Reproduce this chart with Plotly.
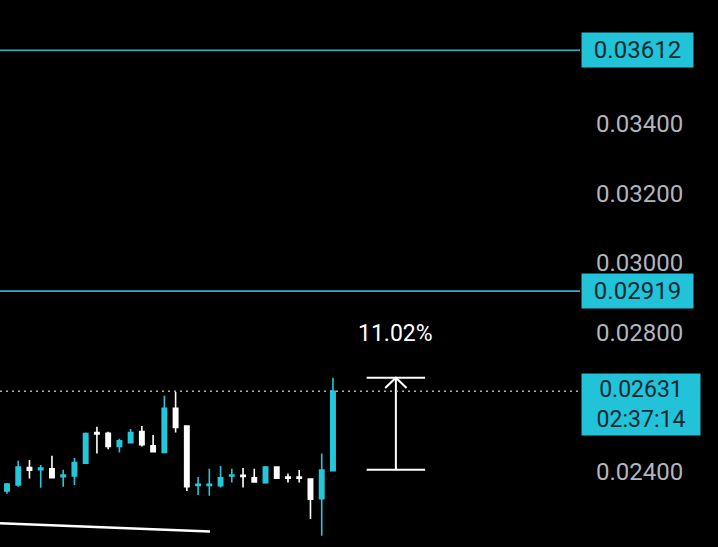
import plotly.graph_objects as go

# ---------------- data ----------------
idx = list(range(30))
opens = [0.02344, 0.02361, 0.02411, 0.02405, 0.02408, 0.02385, 0.02387, 0.02424, 0.02512, 0.02510,
         0.02472, 0.02483, 0.02515, 0.02474, 0.02455, 0.02582, 0.02531, 0.02360, 0.02360, 0.02359,
         0.02387, 0.02389, 0.02382, 0.02368, 0.02413, 0.02384, 0.02384, 0.02378, 0.02322, 0.02402]
highs = [0.02367, 0.02431, 0.02433, 0.02419, 0.02445, 0.02405, 0.02439, 0.02512, 0.02529, 0.02514,
         0.02494, 0.02522, 0.02531, 0.02505, 0.02618, 0.02629, 0.02531, 0.02384, 0.02408, 0.02416,
         0.02408, 0.02410, 0.02408, 0.02416, 0.02413, 0.02394, 0.02404, 0.02378, 0.02452, 0.02670]
lows = [0.02336, 0.02356, 0.02380, 0.02353, 0.02382, 0.02356, 0.02361, 0.02424, 0.02452, 0.02464,
        0.02455, 0.02483, 0.02472, 0.02457, 0.02455, 0.02512, 0.02344, 0.02332, 0.02330, 0.02354,
        0.02368, 0.02354, 0.02370, 0.02365, 0.02381, 0.02368, 0.02368, 0.02263, 0.02215, 0.02402]
closes = [0.02364, 0.02413, 0.02404, 0.02410, 0.02382, 0.02390, 0.02426, 0.02509, 0.02508, 0.02472,
          0.02488, 0.02512, 0.02477, 0.02457, 0.02582, 0.02527, 0.02356, 0.02363, 0.02363, 0.02382,
          0.02390, 0.02386, 0.02370, 0.02413, 0.02381, 0.02381, 0.02381, 0.02320, 0.02404, 0.02631]

level_lines = [0.03612, 0.02919]
last_price = 0.02631
countdown = "02:37:14"

trend_x = [-0.62, 18.06]
trend_y = [0.02251, 0.02227]

measure_x = [32.0, 37.2]
measure_mid = 34.6
measure_lo = 0.02405
measure_hi = 0.02670
measure_text = "11.02%"

# tick labels visible in the reference (0.02600 and 0.03600 sit under price boxes)
y_ticks = [0.022, 0.024, 0.028, 0.030, 0.032, 0.034]

CYAN = "#26C6DA"
WHITE = "#FFFFFF"
LABEL_BG = "#22C2D8"
LABEL_FG = "#0B2B33"
TICK_COLOR = "#B2B5BE"

# arrow head size (style)
AH_DX = 0.95
AH_DY = 0.00030

fig = go.Figure()

fig.add_trace(go.Candlestick(
    x=idx, open=opens, high=highs, low=lows, close=closes,
    increasing=dict(line=dict(color=CYAN, width=1.6), fillcolor=CYAN),
    decreasing=dict(line=dict(color=WHITE, width=1.6), fillcolor=WHITE),
    whiskerwidth=0, showlegend=False, hoverinfo="skip",
))

# trend line
fig.add_trace(go.Scatter(x=trend_x, y=trend_y, mode="lines",
                         line=dict(color=WHITE, width=2.5), showlegend=False, hoverinfo="skip"))

# measurement tool
line_style = dict(color=WHITE, width=2)
fig.add_trace(go.Scatter(x=measure_x, y=[measure_hi, measure_hi], mode="lines",
                         line=line_style, showlegend=False, hoverinfo="skip"))
fig.add_trace(go.Scatter(x=measure_x, y=[measure_lo, measure_lo], mode="lines",
                         line=line_style, showlegend=False, hoverinfo="skip"))
fig.add_trace(go.Scatter(x=[measure_mid, measure_mid], y=[measure_lo, measure_hi], mode="lines",
                         line=line_style, showlegend=False, hoverinfo="skip"))
fig.add_trace(go.Scatter(x=[measure_mid - AH_DX, measure_mid, measure_mid + AH_DX],
                         y=[measure_hi - AH_DY, measure_hi, measure_hi - AH_DY], mode="lines",
                         line=line_style, showlegend=False, hoverinfo="skip"))
fig.add_annotation(x=measure_mid, y=measure_hi, xref="x", yref="y", text=measure_text,
                   showarrow=False, yanchor="middle", yshift=44,
                   font=dict(family="Roboto", size=23, color=WHITE))

# level lines
for lv in level_lines:
    fig.add_shape(type="line", xref="paper", x0=0, x1=1, yref="y", y0=lv, y1=lv,
                  line=dict(color="#1FB8CF", width=1.6))
    fig.add_annotation(xref="paper", x=1, y=lv, yref="y", text=f"{lv:.5f}",
                       showarrow=False, xanchor="left", yanchor="middle", xshift=1,
                       bgcolor=LABEL_BG, width=105, height=28, borderpad=3, align="center",
                       font=dict(family="Roboto", size=24, color=LABEL_FG))

fig.add_shape(type="line", xref="paper", x0=0, x1=1, yref="y", y0=last_price, y1=last_price,
              line=dict(color="#9BB9C0", width=1.5, dash="2px,4px"))
fig.add_annotation(xref="paper", x=1, y=last_price, yref="y",
                   text=f"{last_price:.5f}<br>{countdown}",
                   showarrow=False, xanchor="left", yanchor="top", xshift=1, yshift=18,
                   bgcolor=LABEL_BG, width=112, height=55, borderpad=3, align="center",
                   font=dict(family="Roboto", size=23, color=LABEL_FG))

fig.update_layout(
    width=718, height=547,
    margin=dict(l=0, r=138, t=0, b=0),
    paper_bgcolor="black", plot_bgcolor="black",
    boxgap=0.45,
    xaxis=dict(range=[-0.623, 50.98], visible=False, rangeslider=dict(visible=False),
               showgrid=False, zeroline=False),
    yaxis=dict(range=[0.021827, 0.037568], side="right", showgrid=False, zeroline=False,
               tickvals=y_ticks, tickformat=".5f", ticks="", ticklabelstandoff=15,
               tickfont=dict(family="Roboto", size=24, color=TICK_COLOR), showline=False),
    showlegend=False,
)

fig.write_html("out.html", config={"displayModeBar": False},
               post_script="document.body.style.margin='0';document.body.style.background='black';")
